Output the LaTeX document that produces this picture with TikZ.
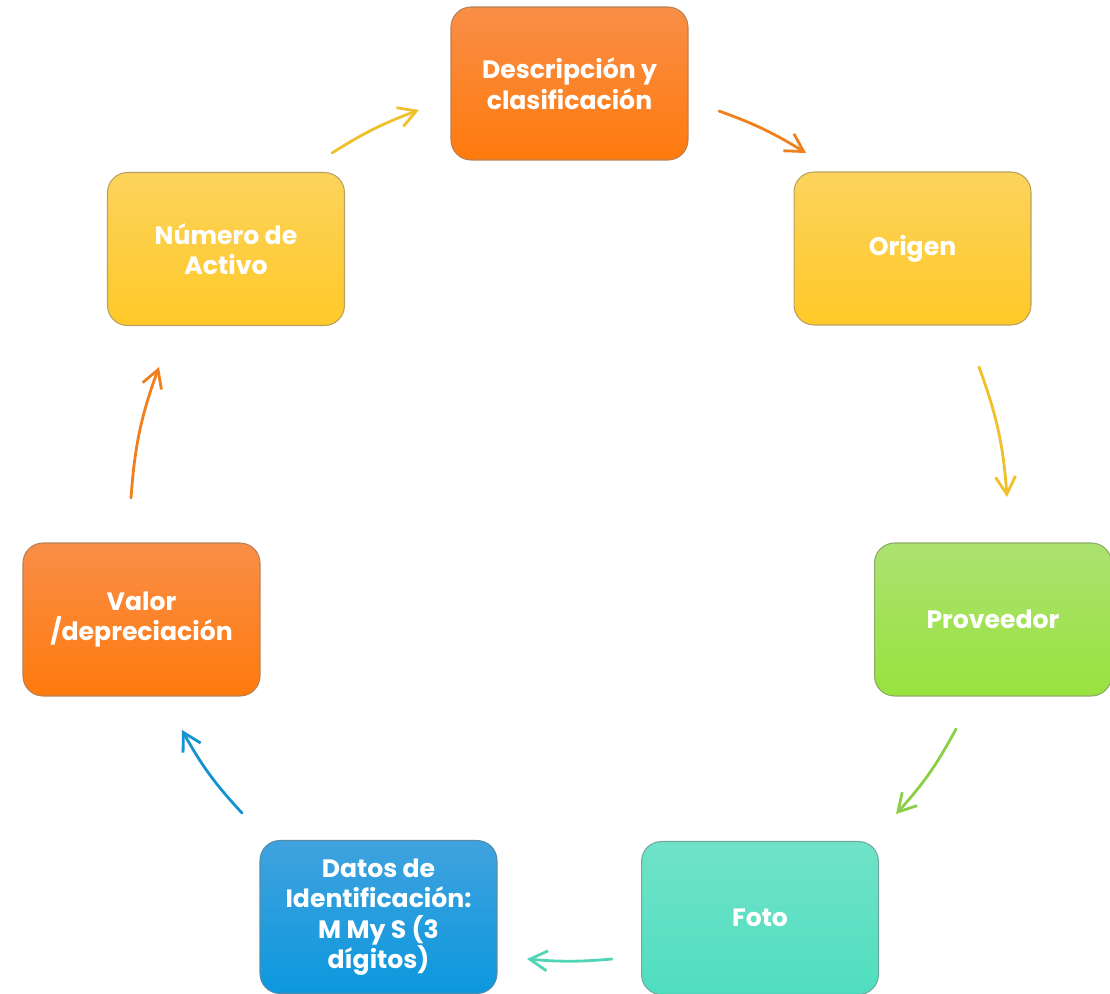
\documentclass[tikz,border=0pt]{standalone}
\usepackage{fontspec}
\setmainfont{Poppins}
\usetikzlibrary{arrows.meta}

\definecolor{naranjaA}{RGB}{249,142,72}
\definecolor{naranjaB}{RGB}{255,122,12}
\definecolor{amarilloA}{RGB}{252,211,92}
\definecolor{amarilloB}{RGB}{255,201,40}
\definecolor{verdeA}{RGB}{172,226,112}
\definecolor{verdeB}{RGB}{152,226,62}
\definecolor{turquesaA}{RGB}{112,226,200}
\definecolor{turquesaB}{RGB}{80,222,192}
\definecolor{azulA}{RGB}{64,162,222}
\definecolor{azulB}{RGB}{12,152,222}
\definecolor{flechaNar}{RGB}{240,128,30}
\definecolor{flechaAma}{RGB}{240,192,44}
\definecolor{flechaVer}{RGB}{140,206,72}
\definecolor{flechaTur}{RGB}{82,212,182}
\definecolor{flechaAzu}{RGB}{22,146,206}

\begin{document}
\begin{tikzpicture}[x=0.02cm,y=0.02cm,
  paso/.style={draw,rectangle,rounded corners=0.4cm,minimum width=4.74cm,
    minimum height=3.06cm,align=center,text=white,line width=0.6pt,
    font=\bfseries\fontsize{14.3}{17.3}\selectfont},
  flecha/.style={-{Straight Barb[length=3.5mm,width=4mm]},line width=1.6pt,line cap=round}]

  \useasboundingbox (0,0) rectangle (1110,-994);

  % Pasos del ciclo
  \node[paso,top color=naranjaA,bottom color=naranjaB,draw=naranjaB!60!black!70] (desc) at (569.5,-83.5) {Descripción y\\clasificación};
  \node[paso,top color=amarilloA,bottom color=amarilloB,draw=amarilloB!60!black!70] (origen) at (912.5,-248.5) {Origen};
  \node[paso,top color=verdeA,bottom color=verdeB,draw=verdeB!60!black!70] (prov) at (993,-619.5) {Proveedor};
  \node[paso,top color=turquesaA,bottom color=turquesaB,draw=turquesaB!60!black!70] (foto) at (760,-918) {Foto};
  \node[paso,top color=azulA,bottom color=azulB,draw=azulB!60!black!70] (datos) at (378.5,-917) {Datos de\\Identificación:\\M My S (3\\dígitos)};
  \node[paso,top color=naranjaA,bottom color=naranjaB,draw=naranjaB!60!black!70] (valor) at (141.5,-619.5) {Valor\\/depreciación};
  \node[paso,top color=amarilloA,bottom color=amarilloB,draw=amarilloB!60!black!70] (numero) at (226,-249) {Número de\\Activo};

  % Extremos de las flechas
  \coordinate (f1a) at (719,-111);   \coordinate (f1b) at (806,-153);
  \coordinate (f2a) at (979,-367);   \coordinate (f2b) at (1007,-497);
  \coordinate (f3a) at (956,-729);   \coordinate (f3b) at (896,-814);
  \coordinate (f4a) at (612,-959);   \coordinate (f4b) at (527,-959);
  \coordinate (f5a) at (242,-813);   \coordinate (f5b) at (182,-730);
  \coordinate (f6a) at (131,-498);   \coordinate (f6b) at (159,-367);
  \coordinate (f7a) at (332,-153);   \coordinate (f7b) at (419,-110);

  \draw[flecha,flechaNar] (f1a) to[bend left=6] (f1b);
  \draw[flecha,flechaAma] (f2a) to[bend left=8] (f2b);
  \draw[flecha,flechaVer] (f3a) to[bend left=7] (f3b);
  \draw[flecha,flechaTur] (f4a) to[bend left=5] (f4b);
  \draw[flecha,flechaAzu] (f5a) to[bend left=7] (f5b);
  \draw[flecha,flechaNar] (f6a) to[bend left=8] (f6b);
  \draw[flecha,flechaAma] (f7a) to[bend left=6] (f7b);

\end{tikzpicture}
\end{document}
